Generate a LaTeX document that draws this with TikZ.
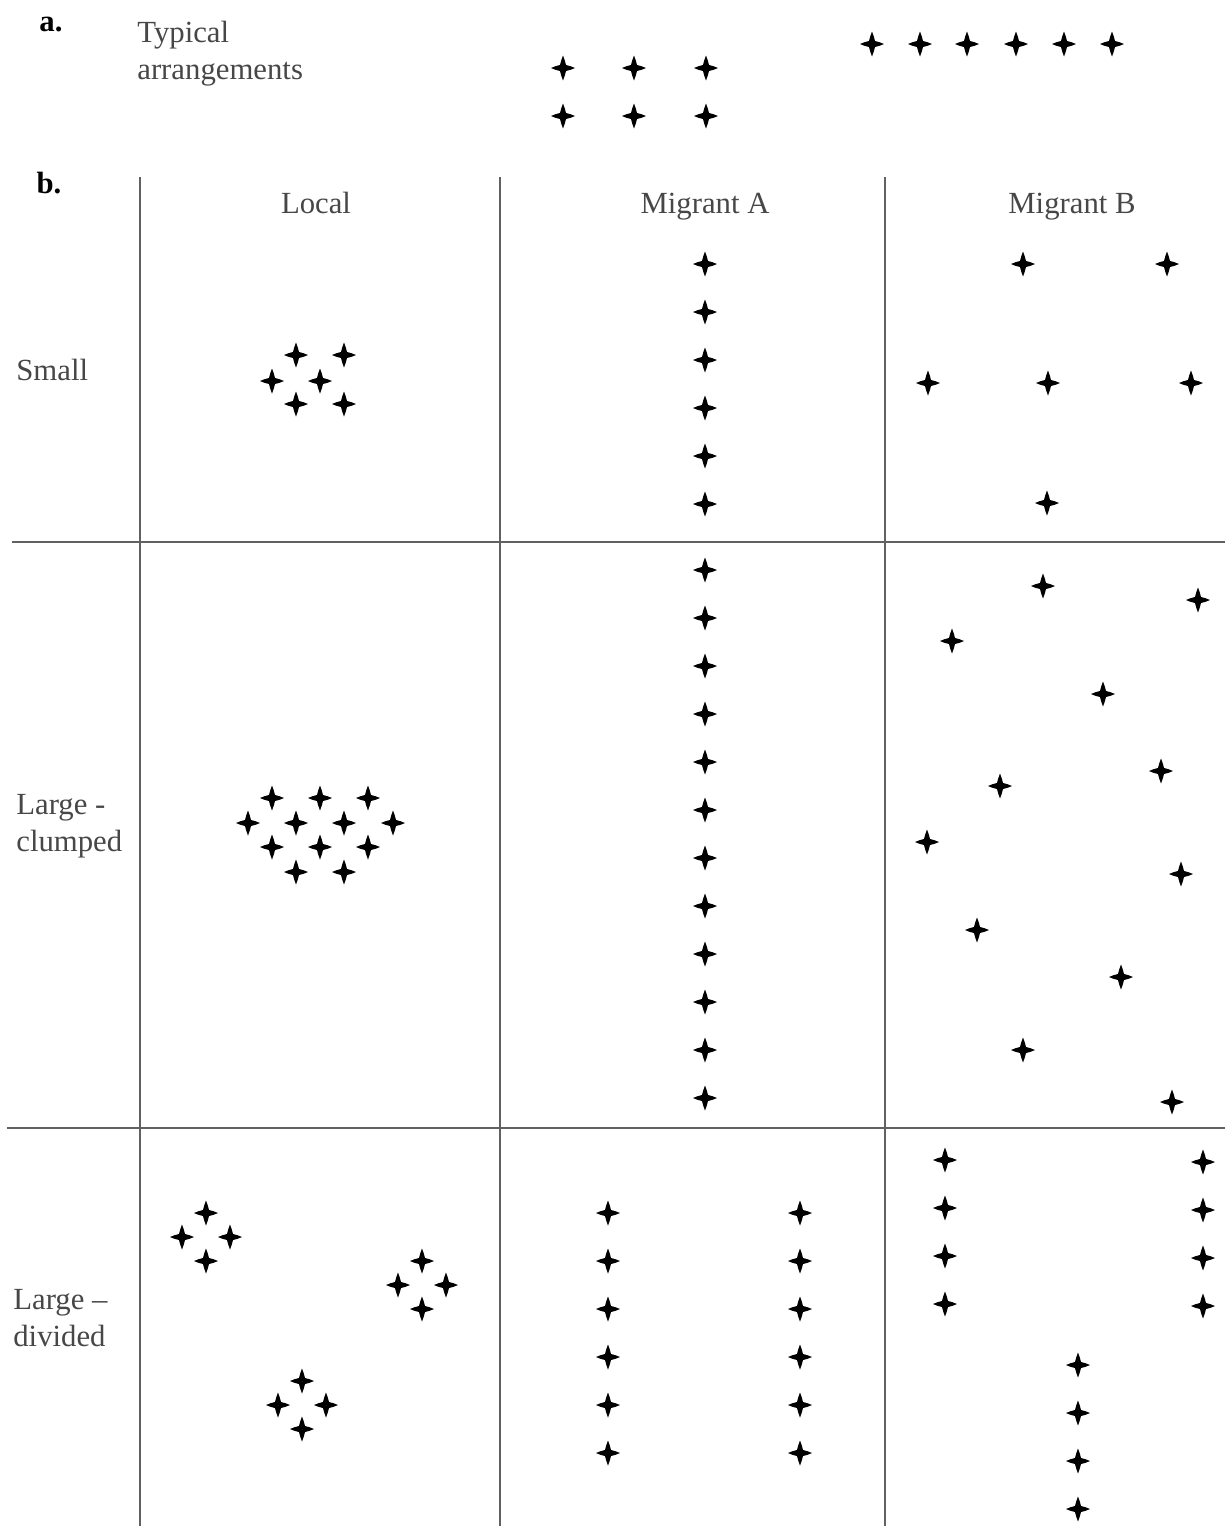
\documentclass[tikz,border=0pt]{standalone}
\usepackage{fontspec}
\setmainfont{Liberation Serif}
\begin{document}
\begin{tikzpicture}[x=0.02cm, y=-0.02cm,
    font=\fontsize{17.5}{21}\selectfont,
    sparkle/.pic={\fill[black] (0,-12.5) -- (1.8,-7.5) -- (3,-3) -- (7.5,-1.8) -- (12,0) -- (7.5,1.8) -- (3,3) -- (1.8,7.5) -- (0,12.5) -- (-1.8,7.5) -- (-3,3) -- (-7.5,1.8) -- (-12,0) -- (-7.5,-1.8) -- (-3,-3) -- (-1.8,-7.5) -- cycle;},
    celltext/.style={text=black!72, inner sep=0pt},
    ruleline/.style={draw=black!62, line width=1.1pt}]
    \useasboundingbox (0,0) rectangle (1225,1526);

    % Part a: typical arrangements
    \node[inner sep=0pt, font=\fontsize{17.5}{21}\selectfont\bfseries] (parta) at (51,24) {a.};
    \node[celltext, anchor=west, align=left] (typical) at (137,54) {Typical\\arrangements};
    \foreach \x in {563,634,706}
        \foreach \y in {68,116}
            \pic at (\x,\y) {sparkle};
    \foreach \x in {872,920,967,1016,1064,1112}
        \pic at (\x,44) {sparkle};

    % Part b: table of groups
    \node[inner sep=0pt, font=\fontsize{17.5}{21}\selectfont\bfseries] (partb) at (49,183) {b.};
    \node[celltext, anchor=base] (local) at (316,213) {Local};
    \node[celltext, anchor=base] (miga) at (705,213) {Migrant A};
    \node[celltext, anchor=base] (migb) at (1072,213) {Migrant B};
    \node[celltext, anchor=west] (small) at (16,370) {Small};
    \node[celltext, anchor=west, align=left] (clumped) at (16,826) {Large -\\clumped};
    \node[celltext, anchor=west, align=left] (divided) at (13,1318) {Large --\\divided};

    % Rules
    \foreach \x in {140,500,885}
        \draw[ruleline] (\x,177) -- (\x,1526);
    \draw[ruleline] (12,542) -- (1225,542);
    \draw[ruleline] (7,1128) -- (1225,1128);

    % Small
    \foreach \p in {(296,355),(344,355),(272,381),(320,381),(296,404),(344,404)}
        \pic at \p {sparkle};
    \foreach \y in {264,312,360,408,456,504}
        \pic at (705,\y) {sparkle};
    \foreach \p in {(1023,264),(1167,264),(928,383),(1048,383),(1191,383),(1047,503)}
        \pic at \p {sparkle};

    % Large - clumped
    \foreach \p in {(272,798),(320,798),(368,798),(248,823),(296,823),(344,823),(393,823),
                    (272,847),(320,847),(368,847),(296,872),(344,872)}
        \pic at \p {sparkle};
    \foreach \y in {570,618,...,1098}
        \pic at (705,\y) {sparkle};
    \foreach \p in {(1043,586),(1198,600),(952,641),(1103,694),(1161,771),(1000,786),
                    (927,842),(1181,874),(977,930),(1121,977),(1023,1050),(1172,1102)}
        \pic at \p {sparkle};

    % Large - divided
    \foreach \cx/\cy in {206/1237,422/1285,302/1405}
        \foreach \dx/\dy in {0/-24,-24/0,24/0,0/24}
            \pic at (\cx+\dx,\cy+\dy) {sparkle};
    \foreach \x in {608,800}
        \foreach \y in {1213,1261,...,1453}
            \pic at (\x,\y) {sparkle};
    \foreach \y in {1160,1208,1256,1304}
        \pic at (945,\y) {sparkle};
    \foreach \y in {1162,1210,1258,1306}
        \pic at (1203,\y) {sparkle};
    \foreach \y in {1365,1413,1461,1509}
        \pic at (1078,\y) {sparkle};
\end{tikzpicture}
\end{document}
